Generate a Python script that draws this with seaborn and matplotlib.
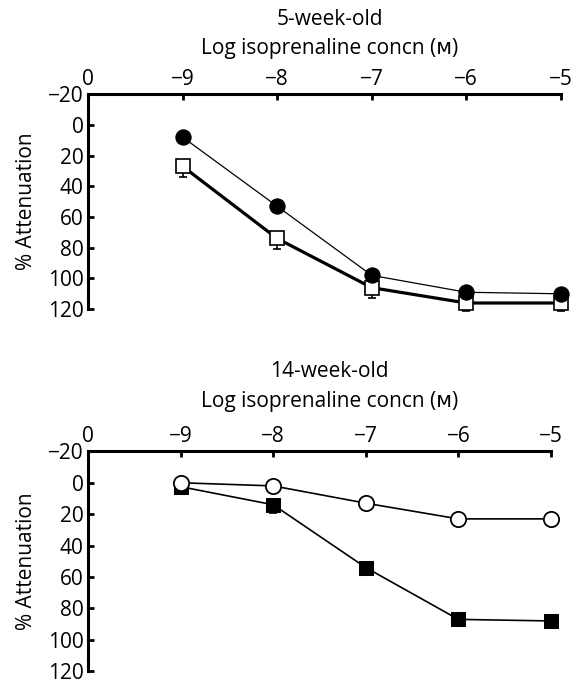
"""
Attenuation vs log isoprenaline concentration, 5- and 14-week-old groups
"""

import matplotlib
matplotlib.use("Agg")
import matplotlib.pyplot as plt
import seaborn as sns
import numpy as np

# ---- data ---------------------------------------------------------------
log_conc = [-9, -8, -7, -6, -5]
x_ticks = [-10, -9, -8, -7, -6, -5]
x_tick_labels = ["0", "\u22129", "\u22128", "\u22127", "\u22126", "\u22125"]
y_ticks = [-20, 0, 20, 40, 60, 80, 100, 120]

# 5-week-old
wk5_filled_circle = [8, 53, 98, 109, 110]
wk5_open_square = [27, 74, 106, 116, 116]
wk5_open_square_err = [7, 7, 7, 5, 5]

# 14-week-old
wk14_open_circle = [0, 2, 13, 23, 23]
wk14_filled_square = [2.5, 14, 54, 87, 88]
wk14_filled_square_err = [0, 5, 0, 0, 0]

FONTS = ["Open Sans", "DejaVu Sans"]
FS = 15

sns.set_style("ticks")
plt.rcParams["font.family"] = FONTS
plt.rcParams["font.size"] = FS
plt.rcParams["text.color"] = "black"
plt.rcParams["axes.labelcolor"] = "black"


def style_axes(ax, width):
    """Top x axis, inverted y axis, inward ticks, only top+left spines"""
    ax.set_xlim(-10, -5)
    ax.set_ylim(120, -20)
    ax.xaxis.tick_top()
    ax.set_xticks(x_ticks)
    ax.set_xticklabels(x_tick_labels)
    ax.set_yticks(y_ticks)
    ax.set_yticklabels([str(v).replace("-", "\u2212") for v in y_ticks])
    for side in ["right", "bottom"]:
        ax.spines[side].set_visible(False)
    for side in ["top", "left"]:
        ax.spines[side].set_linewidth(2.2)
        ax.spines[side].set_color("black")
    ax.tick_params(axis="both", direction="in", length=4.5, width=2,
                   labelsize=FS, colors="black")
    ax.tick_params(axis="x", pad=3)
    ax.tick_params(axis="y", pad=3)
    ax.set_xlabel("")
    ax.set_ylabel("% Attenuation", fontsize=FS, color="black")
    ax.yaxis.label.set_va("center")
    ax.yaxis.set_label_coords(-62 / width, 0.5)


fig = plt.figure(figsize=(5.83, 6.87), dpi=100)
ax1 = fig.add_axes([0.151, 0.550, 0.811, 0.313])
ax2 = fig.add_axes([0.151, 0.023, 0.794, 0.320])

# ---- 5-week-old ---------------------------------------------------------
ax1.errorbar(log_conc, wk5_open_square,
             yerr=[np.zeros(len(wk5_open_square_err)), wk5_open_square_err],
             fmt="none", ecolor="black", elinewidth=1.2, capsize=3, capthick=1.2,
             zorder=2, clip_on=False)
sns.lineplot(x=log_conc, y=wk5_open_square, ax=ax1, color="black", lw=2.3,
             marker="s", markersize=9.5, markerfacecolor="white",
             markeredgecolor="black", markeredgewidth=1.2, zorder=3, clip_on=False)
sns.lineplot(x=log_conc, y=wk5_filled_circle, ax=ax1, color="black", lw=0.9,
             marker="o", markersize=11, markerfacecolor="black",
             markeredgecolor="black", zorder=4, clip_on=False)
style_axes(ax1, 473)

# ---- 14-week-old --------------------------------------------------------
ax2.errorbar(log_conc, wk14_filled_square,
             yerr=[np.zeros(len(wk14_filled_square_err)), wk14_filled_square_err],
             fmt="none", ecolor="black", elinewidth=1.2, capsize=3, capthick=1.2,
             zorder=2, clip_on=False)
sns.lineplot(x=log_conc, y=wk14_filled_square, ax=ax2, color="black", lw=1.2,
             marker="s", markersize=10, markerfacecolor="black",
             markeredgecolor="black", zorder=3, clip_on=False)
sns.lineplot(x=log_conc, y=wk14_open_circle, ax=ax2, color="black", lw=1.2,
             marker="o", markersize=11, markerfacecolor="white",
             markeredgecolor="black", markeredgewidth=1.3, zorder=4, clip_on=False)
style_axes(ax2, 463)

# ---- titles -------------------------------------------------------------
xlabel = "Log isoprenaline concn (\u1d0d)"
fig.text(0.565, 0.971, "5-week-old", ha="center", va="center", fontsize=FS)
fig.text(0.565, 0.929, xlabel, ha="center", va="center", fontsize=FS)
fig.text(0.565, 0.459, "14-week-old", ha="center", va="center", fontsize=FS)
fig.text(0.565, 0.415, xlabel, ha="center", va="center", fontsize=FS)

fig.savefig("out.png", dpi=100)
